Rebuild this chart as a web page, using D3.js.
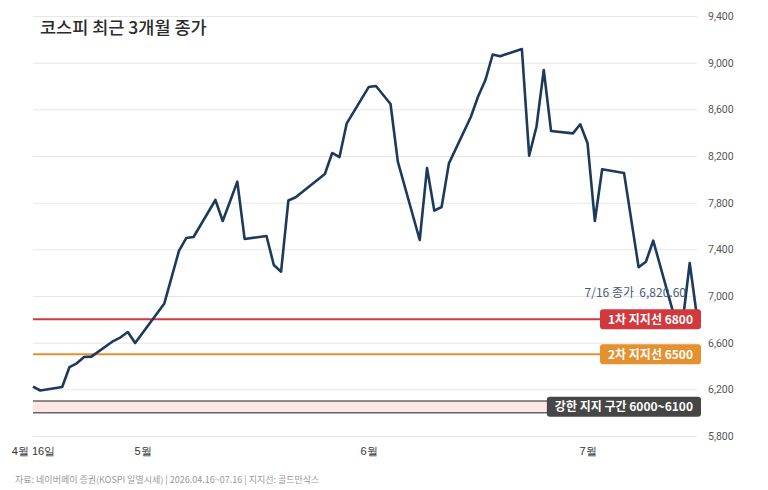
<!DOCTYPE html>
<html>
<head>
<meta charset="utf-8">
<script src="https://cdn.jsdelivr.net/npm/d3@7"></script>
<style>
  body { margin: 0; background: #fff; }
  svg { font-family: "Noto Sans CJK KR", "Noto Sans", sans-serif; }
</style>
</head>
<body>
<svg id="chart" width="768" height="490"></svg>
<script>
// 코스피 일별 종가 (2026.04.16 ~ 07.16)
const dates = ["2026-04-16","2026-04-17","2026-04-20","2026-04-21","2026-04-22","2026-04-23","2026-04-24",
    "2026-04-27","2026-04-28","2026-04-29","2026-04-30","2026-05-04","2026-05-06","2026-05-07","2026-05-08",
    "2026-05-11","2026-05-12","2026-05-13","2026-05-14","2026-05-15","2026-05-18","2026-05-19","2026-05-20",
    "2026-05-21","2026-05-22","2026-05-26","2026-05-27","2026-05-28","2026-05-29","2026-06-01","2026-06-02",
    "2026-06-04","2026-06-05","2026-06-08","2026-06-09","2026-06-10","2026-06-11","2026-06-12","2026-06-15",
    "2026-06-16","2026-06-17","2026-06-18","2026-06-19","2026-06-22","2026-06-23","2026-06-24","2026-06-25",
    "2026-06-26","2026-06-29","2026-06-30","2026-07-01","2026-07-02","2026-07-03","2026-07-06","2026-07-07",
    "2026-07-08","2026-07-09","2026-07-10","2026-07-13","2026-07-14","2026-07-15","2026-07-16"];
const closes = [6224,6190,6220,6391,6423,6477,6480,
    6614,6646,6691,6597,6936,7386,7497,7506,
    7823,7643,7810,7980,7489,7514,7266,7208,
    7819,7846,8046,8226,8191,8480,8791,8800,
    8646,8151,7480,8097,7731,7763,8137,8534,
    8710,8851,9070,9055,9117,8203,8451,8937,
    8414,8394,8472,8309,7643,8086,8054,7650,
    7246,7294,7474,6800,6760,7283,6820.6];

const yTicks = [5800,6200,6600,7000,7400,7800,8200,8600,9000,9400];
const xTickDates = ["2026-04-16","2026-05-01","2026-06-01","2026-07-01"];
const xTickLabels = ["4월 16일","5월","6월","7월"];

const supportLevels = [6800, 6500];
const supportLabels = ["1차 지지선 6800", "2차 지지선 6500"];
const supportColors = ["#d2393d", "#e5912f"];
const strongZone = [6000, 6100];
const strongLabel = "강한 지지 구간 6000~6100";

const lastLabel = "7/16 종가  6,820.60";

const parseDate = d3.timeParse("%Y-%m-%d");
const series = dates.map(function (d, i) { return {date: parseDate(d), close: closes[i]}; });

const margin = {top: 16, right: 71, bottom: 54, left: 33},
    width = 768 - margin.left - margin.right,
    height = 490 - margin.top - margin.bottom;

const svg = d3.select("#chart");
const g = svg.append("g")
    .attr("transform", "translate(" + margin.left + "," + margin.top + ")");

const x = d3.scaleTime()
    .domain([parseDate("2026-04-16"), parseDate("2026-07-16")])
    .range([0, width]);
const y = d3.scaleLinear()
    .domain([5800, 9400])
    .range([height, 0]);

// grid + right-side labels
g.append("g")
    .attr("class", "y-axis")
    .attr("transform", "translate(" + width + ",0)")
    .call(d3.axisRight(y)
        .tickValues(yTicks)
        .tickSize(-width)
        .tickPadding(11)
        .tickFormat(d3.format(",")))
    .call(function (a) {
        a.select(".domain").remove();
        a.selectAll(".tick line").attr("stroke", "#e6e6e6");
        a.selectAll(".tick text")
            .attr("fill", "#555")
            .style("font-family", "'Liberation Sans Narrow', 'Roboto', sans-serif")
            .style("font-size", "10.5px");
    });

// x axis labels
g.append("g")
    .attr("class", "x-axis")
    .attr("transform", "translate(0," + height + ")")
    .call(d3.axisBottom(x)
        .tickValues(xTickDates.map(parseDate))
        .tickSize(0)
        .tickPadding(11)
        .tickFormat(function (d, i) { return xTickLabels[i]; }))
    .call(function (a) {
        a.select(".domain").remove();
        a.selectAll(".tick text")
            .attr("fill", "#333")
            .style("font-size", "11px");
    });

// strong support zone
g.append("rect")
    .attr("x", 0)
    .attr("width", width)
    .attr("y", y(strongZone[1]))
    .attr("height", y(strongZone[0]) - y(strongZone[1]))
    .attr("fill", "#fde6e6");
g.selectAll(".zone-line")
    .data(strongZone)
    .enter().append("line")
    .attr("class", "zone-line")
    .attr("x1", 0).attr("x2", width)
    .attr("y1", function (d) { return y(d); })
    .attr("y2", function (d) { return y(d); })
    .attr("stroke", "#666")
    .attr("stroke-width", 1.5);

// support lines
g.selectAll(".support")
    .data(supportLevels)
    .enter().append("line")
    .attr("class", "support")
    .attr("x1", 0).attr("x2", width)
    .attr("y1", function (d) { return y(d); })
    .attr("y2", function (d) { return y(d); })
    .attr("stroke", function (d, i) { return supportColors[i]; })
    .attr("stroke-width", 2);

// price line
const line = d3.line()
    .x(function (d) { return x(d.date); })
    .y(function (d) { return y(d.close); });

g.append("path")
    .datum(series)
    .attr("fill", "none")
    .attr("stroke", "#1d3a5c")
    .attr("stroke-width", 2.6)
    .attr("stroke-linejoin", "round")
    .attr("d", line);

// last close note
const last = series[series.length - 1];
g.append("text")
    .attr("x", x(last.date) - 11)
    .attr("y", y(7000) + 1)
    .attr("text-anchor", "end")
    .attr("fill", "#4a5a70")
    .style("font-size", "12px")
    .style("white-space", "pre")
    .text(lastLabel);

// label boxes
function tag(value, label, color) {
    const right = width + 4;
    const t = g.append("text")
        .attr("x", right - 8)
        .attr("y", y(value))
        .attr("dy", "0.36em")
        .attr("text-anchor", "end")
        .attr("fill", "#fff")
        .style("font-size", "12px")
        .style("font-weight", "700")
        .text(label);
    const bb = t.node().getBBox();
    g.insert("rect", function () { return t.node(); })
        .attr("x", bb.x - 8)
        .attr("y", y(value) - 10)
        .attr("width", bb.width + 16)
        .attr("height", 20)
        .attr("rx", 3)
        .attr("fill", color);
}
supportLevels.forEach(function (v, i) { tag(v, supportLabels[i], supportColors[i]); });
tag((strongZone[0] + strongZone[1]) / 2, strongLabel, "#464646");

// title
svg.append("text")
    .attr("x", 40)
    .attr("y", 34)
    .attr("fill", "#2b2b2b")
    .style("font-size", "17.5px")
    .style("font-weight", "500")
    .text("코스피 최근 3개월 종가");

// source
svg.append("text")
    .attr("x", 15)
    .attr("y", 483)
    .attr("fill", "#999")
    .style("font-size", "9px")
    .text("자료: 네이버페이 증권(KOSPI 일별시세) | 2026.04.16~07.16 | 지지선: 골드만삭스");
</script>
</body>
</html>
